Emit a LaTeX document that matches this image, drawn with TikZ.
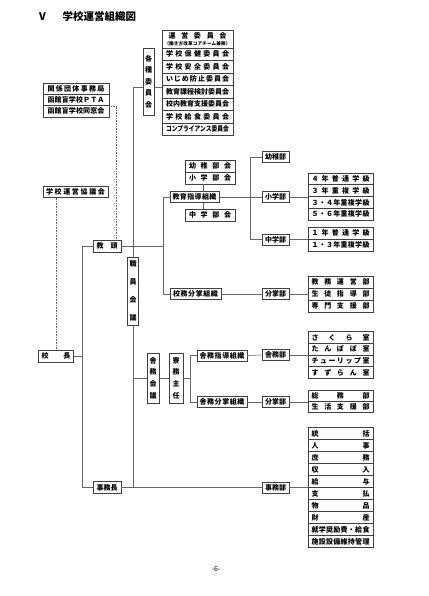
\documentclass[tikz,border=0pt]{standalone}
\usepackage{fontspec}
\usepackage{graphicx}
\setmainfont{Noto Sans CJK JP}
\usetikzlibrary{calc}
\makeatletter
\newlength\spr@w
\newcommand\spr[2]{%
  \edef\spr@t{#2}%
  \settowidth\spr@w{\spr@t}%
  \ifdim\spr@w>#1\relax
    \resizebox{#1}{\height}{\spr@t}%
  \else
    \makebox[#1][s]{\let\spr@f\relax\expandafter\@tfor\expandafter\spr@c\expandafter:\expandafter=\spr@t\do{\ifx\spr@f\@empty\hfill\fi\spr@c\let\spr@f\@empty}}%
  \fi}
\makeatother
\begin{document}
\begin{tikzpicture}[x=1pt,y=-1pt,
  bx/.style={draw=black!75, line width=0.6pt, inner sep=0pt, fill=white,
    font=\fontsize{7}{8.4}\selectfont\bfseries},
  sb/.style={bx, minimum width=27pt, minimum height=11pt},
  ln/.style={draw=black!60, line width=0.6pt},
  dl/.style={draw=black!60, line width=0.6pt, densely dotted}]
\useasboundingbox (0,0) rectangle (428,596);

% title
\node[font=\fontsize{10.5}{12}\selectfont\bfseries] (tv) at (42.5,17) {V};
\node[font=\fontsize{10.5}{12}\selectfont\bfseries, anchor=west] (tt) at (59,17) {学校運営組織図};

% committees
\node[bx, minimum width=71pt, minimum height=18pt, align=center] (c0) at (197.5,39)
  {\spr{58pt}{運営委員会}\\[-1.5pt]{\fontsize{4.6}{5}\selectfont\spr{66pt}{（働き方改革コアチーム兼務）}}};
\foreach \lbl [count=\i] in {学校保健委員会,学校安全委員会,いじめ防止委員会,教育課程検討委員会,校内教育支援委員会,学校給食委員会,コンプライアンス委員会}
  \node[bx, minimum width=71pt, minimum height=12.5pt] (c\i) at (197.5,41.75+12.5*\i) {\spr{63pt}{\lbl}};
\node[bx, minimum width=11pt, minimum height=67pt, align=center] (kaku) at (148.5,81.5)
  {各\\[3pt]種\\[3pt]委\\[3pt]員\\[3pt]会};

% external groups
\foreach \lbl [count=\i] in {関係団体事務局,函館盲学校ＰＴＡ,函館盲学校同窓会}
  \node[bx, minimum width=66pt, minimum height=11.3pt] (r\i) at (76,77.35+11.3*\i) {\spr{57pt}{\lbl}};
\node[bx, minimum width=65pt, minimum height=11pt] (kyogi) at (75.5,192) {\spr{59pt}{学校運営協議会}};

% main chain
\node[bx, minimum width=35pt, minimum height=12pt] (kocho) at (56,356) {\spr{29pt}{校長}};
\node[bx, minimum width=28pt, minimum height=12pt] (kyoto) at (107,246) {\spr{21pt}{教頭}};
\node[bx, minimum width=28pt, minimum height=12pt] (jimucho) at (107,487.5) {\spr{21pt}{事務長}};
\node[bx, minimum width=11pt, minimum height=68pt, align=center] (shokuin) at (133,291)
  {職\\[9.5pt]員\\[9.5pt]会\\[9.5pt]議};

% education guidance
\node[bx, minimum width=50pt, minimum height=12pt] (yochibukai) at (210,166) {\spr{42pt}{幼稚部会}};
\node[bx, minimum width=50pt, minimum height=12pt] (shobukai) at (210,178) {\spr{42pt}{小学部会}};
\node[bx, minimum width=49pt, minimum height=11pt] (kyosido) at (194.5,197) {\spr{44pt}{教育指導組織}};
\node[bx, minimum width=50pt, minimum height=12pt] (chubukai) at (210,215) {\spr{42pt}{中学部会}};
\node[sb] (yochibu) at (275.5,157) {\spr{21pt}{幼稚部}};
\node[sb] (shobu) at (275.5,197) {\spr{21pt}{小学部}};
\node[sb] (chubu) at (275.5,239.5) {\spr{21pt}{中学部}};
\foreach \lbl [count=\i] in {４年普通学級,３年重複学級,３・４年重複学級,５・６年重複学級}
  \node[bx, minimum width=65pt, minimum height=11.75pt] (s\i) at (340.5,167.125+11.75*\i) {\spr{58pt}{\lbl}};
\foreach \lbl [count=\i] in {１年普通学級,１・３年重複学級}
  \node[bx, minimum width=65pt, minimum height=12pt] (m\i) at (340.5,221+12*\i) {\spr{58pt}{\lbl}};

% school affairs
\node[bx, minimum width=51pt, minimum height=11pt] (koumu) at (195.5,294) {\spr{45pt}{校務分掌組織}};
\node[sb] (bunsho) at (275.5,294) {\spr{21pt}{分掌部}};
\foreach \lbl [count=\i] in {教務運営部,生徒指導部,専門支援部}
  \node[bx, minimum width=65pt, minimum height=12pt] (k\i) at (340.5,270+12*\i) {\spr{58pt}{\lbl}};

% dormitory
\node[bx, minimum width=12pt, minimum height=50pt, align=center] (shamukai) at (153,378)
  {舎\\[3.3pt]務\\[3.3pt]会\\[3.3pt]議};
\node[bx, minimum width=14pt, minimum height=50pt, align=center] (ryomu) at (176,378)
  {寮\\[3.3pt]務\\[3.3pt]主\\[3.3pt]任};
\node[bx, minimum width=50pt, minimum height=11pt] (shashido) at (222,355.5) {\spr{45pt}{舎務指導組織}};
\node[bx, minimum width=50pt, minimum height=11pt] (shabunsho) at (222,402) {\spr{45pt}{舎務分掌組織}};
\node[sb] (shamubu) at (275.5,355) {\spr{21pt}{舎務部}};
\node[sb] (bunsho2) at (275.5,402) {\spr{21pt}{分掌部}};
\foreach \lbl [count=\i] in {さくら室,たんぽぽ室,チューリップ室,すずらん室}
  \node[bx, minimum width=65pt, minimum height=11.75pt] (d\i) at (340.5,325.625+11.75*\i) {\spr{58pt}{\lbl}};
\foreach \lbl [count=\i] in {総務部,生活支援部}
  \node[bx, minimum width=65pt, minimum height=11pt] (g\i) at (340.5,385+11*\i) {\spr{58pt}{\lbl}};

% office
\node[sb] (jimubu) at (275.5,487.5) {\spr{21pt}{事務部}};
\foreach \lbl [count=\i] in {統括,人事,庶務,収入,給与,支払,物品,財産,就学奨励費・給食,施設設備維持管理}
  \node[bx, minimum width=65pt, minimum height=12pt] (e\i) at (340.5,421.5+12*\i) {\spr{58pt}{\lbl}};

% page number
\node[font=\fontsize{7}{8}\selectfont] (pg) at (216,569) {-6-};

% connectors
\coordinate (j1) at (133,87);
\coordinate (j3) at (163,246);
\coordinate (j4) at (82,246);
\coordinate (j5) at (190,378);
\coordinate (j6) at (203,190);
\coordinate (j7) at (250,197);
\begin{scope}[on background layer/.try]
\draw[ln] (kaku.west |- j1) -- (j1) -- (j1 |- shokuin.north);
\draw[ln] (kaku.east |- j1) -- (c4.west |- j1);
\draw[ln] (kyoto.east) -- (j3);
\draw[ln] (kyosido.west) -- (kyosido.west -| j3) -- (koumu.west -| j3) -- (koumu.west);
\draw[ln] (kyoto.west) -- (j4) |- (jimucho.west);
\draw[ln] (kocho.east) -- (kocho.east -| j4);
\draw[ln] (shokuin.south) -- (shokuin.south |- jimucho.east);
\draw[ln] (jimucho.east) -- (jimubu.west);
\draw[ln] (shokuin.south |- shamukai.west) -- (shamukai.west);
\draw[ln] (shamukai.east) -- (ryomu.west);
\draw[ln] (ryomu.east) -- (j5);
\draw[ln] (shashido.west) -- (shashido.west -| j5) -- (shabunsho.west -| j5) -- (shabunsho.west);
\draw[ln] (shashido.east) -- (shamubu.west);
\draw[ln] (shamubu.east) -- (shamubu.east -| d1.west);
\draw[ln] (shabunsho.east) -- (bunsho2.west);
\draw[ln] (bunsho2.east) -- (bunsho2.east -| g1.west);
\draw[ln] (koumu.east) -- (bunsho.west);
\draw[ln] (bunsho.east) -- (bunsho.east -| k1.west);
\draw[ln] (jimubu.east) -- (jimubu.east -| e1.west);
\draw[ln] (shobukai.south -| j6) -- (kyosido.north -| j6);
\draw[ln] (kyosido.south -| j6) -- (chubukai.north -| j6);
\draw[ln] (kyosido.east) -- (shobu.west);
\draw[ln] (yochibu.west) -- (yochibu.west -| j7) -- (chubu.west -| j7) -- (chubu.west);
\draw[ln] (shobu.east) -- (shobu.east -| s1.west);
\draw[ln] (chubu.east) -- (chubu.east -| m1.west);
\draw[dl] (r2.south east) -- ++(7,0) coordinate (j2) -- (j2 |- kyoto.north);
\draw[dl] (kyogi.south -| kocho.north) -- (kocho.north);
\end{scope}
\end{tikzpicture}
\end{document}
